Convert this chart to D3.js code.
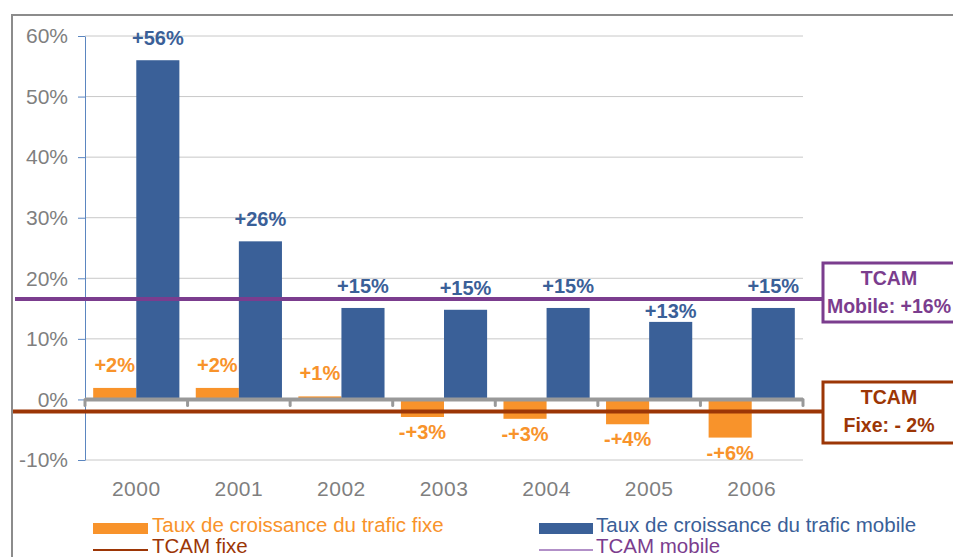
<!DOCTYPE html>
<html>
<head>
<meta charset="utf-8">
<script src="https://cdn.jsdelivr.net/npm/d3@7"></script>
<style>
  body { margin: 0; background: #fff; }
  text { font-family: "Liberation Sans", Arial, sans-serif; }
</style>
</head>
<body>
<script>
// donnees
const years = ["2000", "2001", "2002", "2003", "2004", "2005", "2006"];
const fixe = [1.9, 1.9, 0.5, -2.9, -3.2, -4.1, -6.3];
const mobile = [56, 26.1, 15.1, 14.8, 15.1, 12.8, 15.1];
const fixeLabels = ["+2%", "+2%", "+1%", "-+3%", "-+3%", "-+4%", "-+6%"];
const mobileLabels = ["+56%", "+26%", "+15%", "+15%", "+15%", "+13%", "+15%"];
const yTicks = [-10, 0, 10, 20, 30, 40, 50, 60];
const tcamMobile = 16.6;
const tcamFixe = -2;
const legendLabels = ["Taux de croissance du trafic fixe", "Taux de croissance du trafic mobile", "TCAM fixe", "TCAM mobile"];

const width = 953, height = 557;
const orange = "#f8932b", blue = "#3a6098", purple = "#7b3d8e", brown = "#9c3606";

let svg = d3.select("body").append("svg")
    .attr("width", width).attr("height", height);

// cadre exterieur
svg.append("rect")
    .attr("x", 12).attr("y", 15).attr("width", 1000).attr("height", 600)
    .attr("fill", "none").attr("stroke", "#8c8c8c").attr("stroke-width", 2);

let y = d3.scaleLinear().domain([-10, 60]).range([460, 36]);
let x = d3.scaleBand().domain(years).range([85, 803]);
let x1 = d3.scaleBand().domain(["fixe", "mobile"]).range([0, x.bandwidth()]).paddingOuter(0.19);

// grille
svg.append("g").selectAll("line").data(yTicks.filter(d => d !== 0)).join("line")
    .attr("x1", 85).attr("x2", 803)
    .attr("y1", d => y(d)).attr("y2", d => y(d))
    .attr("stroke", "#c8c8c8").attr("stroke-width", 1);

// axe Y
let yAxis = svg.append("g").attr("transform", "translate(85,0)")
    .call(d3.axisLeft(y).tickValues(yTicks).tickFormat(d => d + "%").tickSize(7).tickSizeOuter(0));
yAxis.select(".domain").attr("stroke", "#5b86c0");
yAxis.selectAll(".tick line").attr("stroke", "#5b86c0");
yAxis.selectAll(".tick text")
    .attr("x", -17)
    .attr("fill", "#7f7f7f")
    .style("font-size", "21px")
    .style("font-family", "'Liberation Sans', Arial, sans-serif");

// barres
let groups = svg.append("g").selectAll("g").data(years).join("g")
    .attr("transform", d => `translate(${x(d)},0)`);

groups.append("rect")
    .attr("x", x1("fixe")).attr("width", x1.bandwidth())
    .attr("y", (d, i) => y(Math.max(0, fixe[i])))
    .attr("height", (d, i) => Math.abs(y(fixe[i]) - y(0)))
    .attr("fill", orange);

groups.append("rect")
    .attr("x", x1("mobile")).attr("width", x1.bandwidth())
    .attr("y", (d, i) => y(Math.max(0, mobile[i])))
    .attr("height", (d, i) => Math.abs(y(mobile[i]) - y(0)))
    .attr("fill", blue);

// axe zero
let zero = svg.append("g");
zero.selectAll("line.tk").data(years.concat(["end"])).join("line")
    .attr("class", "tk")
    .attr("x1", (d, i) => 85 + i * x.step()).attr("x2", (d, i) => 85 + i * x.step())
    .attr("y1", y(0)).attr("y2", y(0) + 6)
    .attr("stroke", "#999").attr("stroke-width", 3).attr("stroke-linecap", "round");
zero.append("line")
    .attr("x1", 85).attr("x2", 803).attr("y1", y(0)).attr("y2", y(0))
    .attr("stroke", "#999").attr("stroke-width", 4);

// annees
svg.append("g").selectAll("text").data(years).join("text")
    .attr("x", d => x(d) + x.bandwidth() / 2)
    .attr("y", 496)
    .attr("text-anchor", "middle")
    .attr("fill", "#7f7f7f")
    .style("font-size", "21px")
    .style("letter-spacing", "0.5px")
    .text(d => d);

// TCAM lignes
svg.append("line")
    .attr("x1", 15).attr("x2", 823).attr("y1", y(tcamMobile)).attr("y2", y(tcamMobile))
    .attr("stroke", purple).attr("stroke-width", 4);
svg.append("line")
    .attr("x1", 13).attr("x2", 824).attr("y1", y(tcamFixe)).attr("y2", y(tcamFixe))
    .attr("stroke", brown).attr("stroke-width", 4);

// etiquettes (sous la ligne TCAM si elles la chevauchent)
groups.append("text")
    .attr("x", x1("mobile") + x1.bandwidth() / 2)
    .attr("y", (d, i) => {
        let ly = y(mobile[i]) - 15;
        if (Math.abs(ly - 7 - y(tcamMobile)) < 6) ly = y(tcamMobile) + 19;
        return ly;
    })
    .attr("text-anchor", "middle")
    .attr("fill", blue)
    .style("font-size", "20px").style("font-weight", "bold")
    .text((d, i) => mobileLabels[i]);

groups.append("text")
    .attr("x", x1("fixe") + x1.bandwidth() / 2)
    .attr("y", (d, i) => fixe[i] >= 0 ? y(fixe[i]) - 16 : y(fixe[i]) + 22)
    .attr("text-anchor", "middle")
    .attr("fill", orange)
    .style("font-size", "20px").style("font-weight", "bold")
    .text((d, i) => fixeLabels[i]);

// encadres TCAM
function box(y0, h, col, lines) {
    svg.append("rect")
        .attr("x", 823).attr("y", y0).attr("width", 142).attr("height", h)
        .attr("fill", "#fff").attr("stroke", col).attr("stroke-width", 3);
    svg.append("g").selectAll("text").data(lines).join("text")
        .attr("x", 889)
        .attr("y", (d, i) => y0 + 22 + i * 28)
        .attr("text-anchor", "middle")
        .attr("fill", col)
        .style("font-size", "19.5px").style("font-weight", "bold")
        .text(d => d);
}
box(263, 59, purple, ["TCAM", "Mobile: +16%"]);
box(382, 61, brown, ["TCAM", "Fixe: - 2%"]);

// legende
let legend = svg.append("g");
legend.append("rect").attr("x", 93).attr("y", 523).attr("width", 55).attr("height", 11).attr("fill", orange);
legend.append("rect").attr("x", 539).attr("y", 523).attr("width", 54).attr("height", 11).attr("fill", blue);
legend.append("line").attr("x1", 93).attr("x2", 148).attr("y1", 550).attr("y2", 550).attr("stroke", brown).attr("stroke-width", 2);
legend.append("line").attr("x1", 539).attr("x2", 593).attr("y1", 550).attr("y2", 550).attr("stroke", "#b290c8").attr("stroke-width", 2);

let legendText = [
    { x: 152, y: 532, c: orange, t: legendLabels[0] },
    { x: 596, y: 532, c: blue, t: legendLabels[1] },
    { x: 152, y: 553, c: brown, t: legendLabels[2] },
    { x: 596, y: 553, c: purple, t: legendLabels[3] }
];
legend.selectAll("text").data(legendText).join("text")
    .attr("x", d => d.x).attr("y", d => d.y)
    .attr("fill", d => d.c)
    .style("font-size", "20.5px")
    .text(d => d.t);
</script>
</body>
</html>
